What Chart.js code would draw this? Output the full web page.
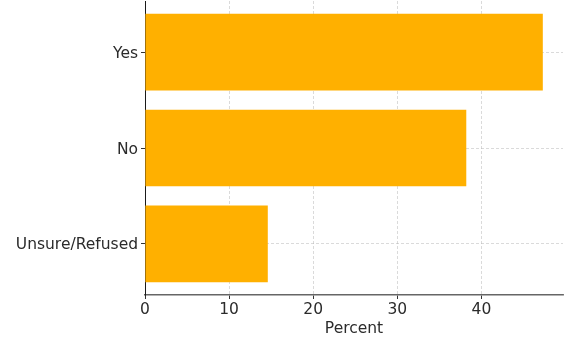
<!DOCTYPE html>
<html>
<head>
<meta charset="utf-8">
<script src="https://cdn.jsdelivr.net/npm/chart.js@4"></script>
<style>
  body { margin: 0; background: #fff; }
  #chart { display: block; }
</style>
</head>
<body>
<canvas id="chart" width="576" height="352"></canvas>
<script>
// datos
let categorias = ['Yes', 'No', 'Unsure/Refused'];
let porcentajes = [47.3, 38.2, 14.6];
let ticksX = [0, 10, 20, 30, 40];

Chart.defaults.font.family = "'DejaVu Sans', sans-serif";
Chart.defaults.font.size = 15.5;
Chart.defaults.color = '#2b2b2b';

let puntos = porcentajes.map(function (v, i) {
    return { x: v, y: i };
});

let datos = {
    datasets: [{
        data: puntos,
        backgroundColor: '#ffb000',
        borderWidth: 0,
        barPercentage: 0.8,
        categoryPercentage: 1.0
    }]
};

let opciones = {
    indexAxis: 'y',
    responsive: false,
    animation: false,
    layout: { padding: { top: 1, right: 13, left: 0, bottom: 0 } },
    plugins: {
        legend: { display: false },
        tooltip: { enabled: false }
    },
    scales: {
        x: {
            type: 'linear',
            min: 0,
            max: 49.7,
            z: 1,
            afterFit: function (scale) {
                scale.height = 57;
                scale.paddingLeft = 0;
                scale.paddingRight = 0;
            },
            afterBuildTicks: function (scale) {
                scale.ticks = ticksX.map(function (v) { return { value: v }; });
            },
            ticks: { padding: 2 },
            grid: {
                color: 'rgba(176,176,176,0.6)',
                lineWidth: 0.8,
                tickColor: '#333',
                tickLength: 4,
                tickWidth: 1,
                tickBorderDash: []
            },
            border: { color: '#666', width: 1.5, dash: [3, 2] },
            title: {
                display: true,
                text: 'Percent',
                padding: { top: 0, bottom: 14 }
            }
        },
        y: {
            type: 'linear',
            reverse: true,
            min: -0.533,
            max: 2.533,
            offset: false,
            z: 1,
            afterFit: function (scale) {
                scale.width = 145;
                scale.paddingTop = 0;
                scale.paddingBottom = 0;
            },
            afterBuildTicks: function (scale) {
                scale.ticks = categorias.map(function (c, i) { return { value: i }; });
            },
            ticks: {
                padding: 3,
                labelOffset: 1.5,
                callback: function (valor) { return categorias[valor]; }
            },
            grid: {
                offset: false,
                color: 'rgba(176,176,176,0.6)',
                lineWidth: 0.8,
                tickColor: '#333',
                tickLength: 4,
                tickWidth: 1,
                tickBorderDash: []
            },
            border: { color: '#1a1a1a', width: 1, dash: [3, 2] }
        }
    }
};

let ctx = document.getElementById('chart');
let grafica = new Chart(ctx, {
    type: 'bar',
    data: datos,
    options: opciones
});
</script>
</body>
</html>
